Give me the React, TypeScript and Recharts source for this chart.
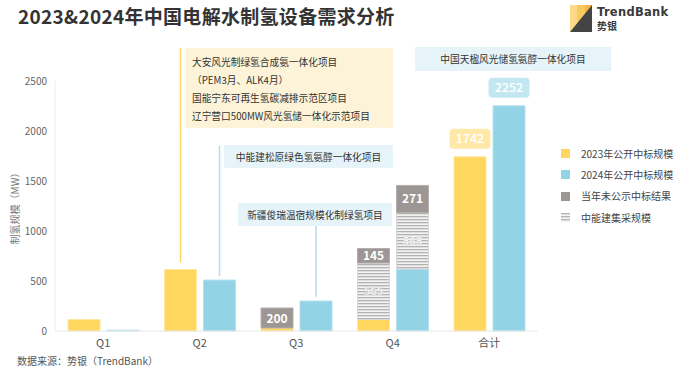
import React from 'react';
import { BarChart, Bar, XAxis, YAxis, LabelList, Legend } from 'recharts';

// ---------- data ----------
const categories = ['Q1', 'Q2', 'Q3', 'Q4', '合计'];
const bid2023 = [115, 615, 30, 115, 1742];
const bid2024 = [8, 510, 300, 620, 2252];
const ceec2023 = [0, 0, 0, 565, 0];
const ceec2024 = [0, 0, 0, 565, 0];
const undisclosed2023 = [0, 0, 200, 145, 0];
const undisclosed2024 = [0, 0, 0, 271, 0];
const yTicks = [0, 500, 1000, 1500, 2000, 2500];
const seriesNames = ['2023年公开中标规模', '2024年公开中标规模', '当年未公示中标结果', '中能建集采规模'];

const title = '2023&2024年中国电解水制氢设备需求分析';
const yLabel = '制氢规模（MW）';
const source = '数据来源：势银（TrendBank）';

const annotationTexts = [
  ['大安风光制绿氢合成氨一体化项目', '（PEM3月、ALK4月）', '国能宁东可再生氢碳减排示范区项目', '辽宁营口500MW风光氢储一体化示范项目'],
  ['中能建松原绿色氢氨醇一体化项目'],
  ['新疆俊瑞温宿规模化制绿氢项目'],
  ['中国天楹风光储氢氨醇一体化项目'],
];

// ---------- styles ----------
const FONT = '"Noto Sans CJK SC","Noto Sans",sans-serif';
const C_Y = '#FFD65E';
const C_B = '#93D3E6';
const C_G = '#9C9694';
const C_H = 'url(#hatchPat)';
const BOX_Y = '#FDF3D9';
const BOX_B = '#E6F4F9';
const LINE_Y = '#FFD65E';
const LINE_B = '#B3DFEC';

const annotationLayout = [
  { series: 'a1', cat: 'Q2', left: 186, top: 48, width: 207, height: 80, bg: BOX_Y, line: LINE_Y, lineTop: 48, gap: 7, align: 'left' },
  { series: 'b1', cat: 'Q2', left: 224, top: 145, width: 169, height: 23, bg: BOX_B, line: LINE_B, lineTop: 146, gap: 4, align: 'center' },
  { series: 'b1', cat: 'Q3', left: 238, top: 203, width: 154, height: 23, bg: BOX_B, line: LINE_B, lineTop: 226, gap: 4, align: 'center' },
  { series: 'b3', cat: 'Q4', left: 415, top: 47, width: 196, height: 24, bg: BOX_B, line: LINE_B, lineTop: 47, gap: 4, align: 'center' },
];

const data = categories.map((c, i) => ({
  cat: c,
  a1: bid2023[i],
  a2: ceec2023[i],
  a3: undisclosed2023[i],
  b1: bid2024[i],
  b2: ceec2024[i],
  b3: undisclosed2024[i],
}));

function linesFor(series: string, p: any) {
  const cat = categories[p.index];
  return annotationLayout
    .filter((a) => a.series === series && a.cat === cat)
    .map((a, k) => {
      const cx = p.x + p.width / 2;
      return (
        <line key={'l' + k} x1={cx} x2={cx} y1={a.lineTop} y2={p.y - a.gap} stroke={a.line} strokeWidth={1.5} />
      );
    });
}

function totalBadge(p: any, bg: string) {
  if (categories[p.index] !== '合计') return null;
  const cx = p.x + p.width / 2;
  const w = 41, h = 20;
  const top = p.y - 8 - h;
  return (
    <g>
      <rect x={cx - w / 2} y={top} width={w} height={h} rx={4} fill={bg} />
      <text x={cx} y={top + h / 2 + 4.5} textAnchor="middle" fill="#fff" fontSize={12.5} fontWeight={500} fontFamily={FONT}>
        {p.value}
      </text>
    </g>
  );
}

function makeBaseLabel(series: string, badgeBg: string) {
  return (p: any) => (
    <g>
      {linesFor(series, p)}
      {totalBadge(p, badgeBg)}
    </g>
  );
}

function makeGreyLabel(series: string) {
  return (p: any) => {
    if (!p.value) return null;
    return (
      <g>
        {linesFor(series, p)}
        <text x={p.x + p.width / 2} y={p.y + p.height / 2 + 4.5} textAnchor="middle" fill="#fff" fontSize={12} fontWeight={700} fontFamily={FONT}>
          {p.value}
        </text>
      </g>
    );
  };
}

const hatchLabel = (p: any) => {
  if (!p.value) return null;
  return (
    <text x={p.x + p.width / 2} y={p.y + p.height / 2 + 4} textAnchor="middle" fill="#fff" stroke="#c8c8c8" strokeWidth={0.4} fontSize={11} fontWeight={700} fontFamily={FONT}>
      {p.value}
    </text>
  );
};

const legendColors = [C_Y, C_B, C_G, 'hatch'];

const LegendContent = () => (
  <div style={{ fontFamily: FONT }}>
    {seriesNames.map((n, i) => (
      <div key={n} style={{ display: 'flex', alignItems: 'center', height: 21.3 }}>
        {legendColors[i] === 'hatch' ? (
          <svg width={9} height={9} style={{ marginRight: 11 }}>
            <rect width={9} height={9} fill={C_H} />
          </svg>
        ) : (
          <div style={{ width: 9, height: 9, background: legendColors[i], marginRight: 11 }} />
        )}
        <span style={{ fontSize: 10, color: '#444', lineHeight: '14px', whiteSpace: 'nowrap' }}>{n}</span>
      </div>
    ))}
  </div>
);

const YLabel = (props: any) => {
  const vb = props.viewBox || { x: 15, y: 81, height: 250 };
  const x = vb.x - 1;
  const y = vb.y + vb.height / 2;
  return (
    <text x={x} y={y} transform={`rotate(-90 ${x} ${y})`} textAnchor="middle" dominantBaseline="central" fill="#777" fontSize={10} fontFamily={FONT}>
      {yLabel}
    </text>
  );
};

const Logo = () => (
  <div style={{ position: 'absolute', left: 570, top: 5 }}>
    <svg width={110} height={30}>
      <defs>
        <linearGradient id="logoG" x1="0" x2="1" y1="0" y2="0">
          <stop offset="0" stopColor="#FCDA86" />
          <stop offset="0.33" stopColor="#FCDA86" />
          <stop offset="0.33" stopColor="#FAC961" />
          <stop offset="0.66" stopColor="#FAC961" />
          <stop offset="0.66" stopColor="#F6B640" />
          <stop offset="1" stopColor="#F6B640" />
        </linearGradient>
      </defs>
      <rect x={0} y={0} width={22} height={27} fill="url(#logoG)" />
      <polygon points="0,27 22,0 22,27" fill="#444" />
      <text x={27} y={11} fontSize={11.5} fontWeight={700} fill="#3a3a3a" fontFamily='"DejaVu Sans",sans-serif' letterSpacing={0.3}>
        TrendBank
      </text>
      <text x={27} y={25} fontSize={10} fontWeight={700} fill="#3a3a3a" fontFamily={FONT}>
        势银
      </text>
    </svg>
  </div>
);

export default function App() {
  return (
    <div style={{ position: 'absolute', left: 0, top: 0, width: 693, height: 371, background: '#fff', fontFamily: FONT, overflow: 'hidden' }}>
      <svg width={0} height={0} style={{ position: 'absolute' }}>
        <defs>
          <pattern id="hatchPat" patternUnits="userSpaceOnUse" width={6} height={3}>
            <rect width={6} height={3} fill="#F3F3F3" />
            <rect y={0} width={6} height={1.3} fill="#B2B2B2" />
          </pattern>
        </defs>
      </svg>

      <div style={{ position: 'absolute', left: 18, top: 4, fontSize: 19, lineHeight: '24px', fontWeight: 700, color: '#333', whiteSpace: 'nowrap', letterSpacing: 0.3 }}>
        {title}
      </div>
      <Logo />

      <div style={{ position: 'absolute', left: 0, top: 0 }}>
        <BarChart width={693} height={371} data={data} margin={{ top: 81, right: 155.5, bottom: 18, left: 15 }} barSize={32} barGap={7}>
          <XAxis dataKey="cat" axisLine={{ stroke: '#E6E6E6' }} tickLine={false} height={22} tick={{ fill: '#555', fontSize: 11, fontFamily: FONT }} />
          <YAxis width={40} domain={[0, 2500]} ticks={yTicks} axisLine={{ stroke: '#EEEEEE' }} tickLine={false} tick={{ fill: '#666', fontSize: 10, fontFamily: FONT }} label={<YLabel />} />
          <Legend layout="horizontal" verticalAlign="middle" align="center" content={<LegendContent />} wrapperStyle={{ left: 561, top: 143, width: 130, height: 90 }} />

          <Bar dataKey="a1" stackId="a" fill={C_Y} stroke="#FFE7A0" strokeWidth={1} isAnimationActive={false}>
            <LabelList dataKey="a1" content={makeBaseLabel('a1', '#FFE9A8')} />
          </Bar>
          <Bar dataKey="a2" stackId="a" fill={C_H} stroke="#D8D8D8" strokeWidth={1} isAnimationActive={false}>
            <LabelList dataKey="a2" content={hatchLabel} />
          </Bar>
          <Bar dataKey="a3" stackId="a" fill={C_G} stroke="#B3AEAC" strokeWidth={1} isAnimationActive={false}>
            <LabelList dataKey="a3" content={makeGreyLabel('a3')} />
          </Bar>

          <Bar dataKey="b1" stackId="b" fill={C_B} stroke="#B5E2EE" strokeWidth={1} isAnimationActive={false}>
            <LabelList dataKey="b1" content={makeBaseLabel('b1', '#C3E7F1')} />
          </Bar>
          <Bar dataKey="b2" stackId="b" fill={C_H} stroke="#D8D8D8" strokeWidth={1} isAnimationActive={false}>
            <LabelList dataKey="b2" content={hatchLabel} />
          </Bar>
          <Bar dataKey="b3" stackId="b" fill={C_G} stroke="#B3AEAC" strokeWidth={1} isAnimationActive={false}>
            <LabelList dataKey="b3" content={makeGreyLabel('b3')} />
          </Bar>
        </BarChart>
      </div>

      {annotationLayout.map((a, i) => (
        <div
          key={i}
          style={{
            position: 'absolute',
            left: a.left,
            top: a.top,
            width: a.width,
            height: a.height,
            background: a.bg,
            boxSizing: 'border-box',
            paddingLeft: a.align === 'left' ? 6 : 0,
            paddingTop: a.align === 'left' ? 5 : 0,
            display: 'flex',
            flexDirection: 'column',
            justifyContent: a.align === 'left' ? 'flex-start' : 'center',
            alignItems: a.align === 'left' ? 'flex-start' : 'center',
          }}
        >
          {annotationTexts[i].map((t) => (
            <div key={t} style={{ fontSize: 9.7, lineHeight: '18px', color: '#333', whiteSpace: 'nowrap' }}>
              {t}
            </div>
          ))}
        </div>
      ))}

      <div style={{ position: 'absolute', left: 17, top: 354, fontSize: 10, lineHeight: '14px', color: '#555', whiteSpace: 'nowrap' }}>
        {source}
      </div>
    </div>
  );
}
